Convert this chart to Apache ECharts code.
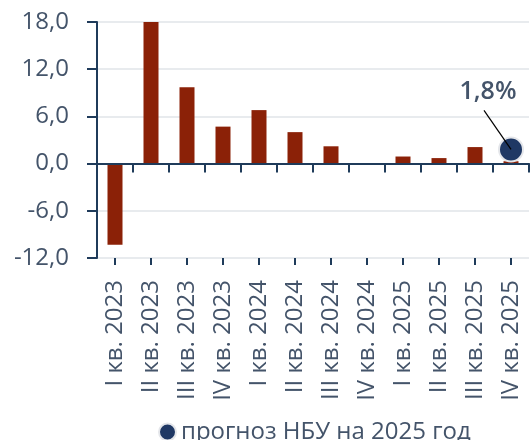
<!DOCTYPE html>
<html>
<head>
<meta charset="utf-8">
<script src="https://cdn.jsdelivr.net/npm/echarts@6/dist/echarts.min.js"></script>
<style>
  html, body { margin: 0; padding: 0; background: #fff; }
  #chart { width: 530px; height: 440px; }
</style>
</head>
<body>
<div id="chart"></div>
<script>
// категорії (квартали)
const quarters = ['I кв. 2023', 'II кв. 2023', 'III кв. 2023', 'IV кв. 2023',
  'I кв. 2024', 'II кв. 2024', 'III кв. 2024', 'IV кв. 2024',
  'I кв. 2025', 'II кв. 2025', 'III кв. 2025', 'IV кв. 2025']
// фактичні значення, %
const actual = [-10.3, 18.0, 9.7, 4.7, 6.8, 4.0, 2.2, 0, 0.9, 0.7, 2.1, 0.3]
// прогноз НБУ на 2025 рік
const forecast = [null, null, null, null, null, null, null, null, null, null, null, 1.8]
const forecastName = 'прогноз НБУ на 2025 год'

const textColor = '#44546a'
const axisColor = '#1f3b5a'
const font = '"Open Sans", sans-serif'

const fmt = v => v.toFixed(1).replace('.', ',')

const chart = echarts.init(document.getElementById('chart'))

// точка прогнозу для підпису
const forecastPoints = forecast.map((v, i) => [i, v]).filter(d => d[1] != null)

const option = {
  animation: false,
  textStyle: { fontFamily: font },
  grid: { left: 97, right: 1, top: 22, bottom: 182 },
  legend: {
    data: [forecastName],
    left: 153,
    top: 415,
    icon: 'circle',
    itemWidth: 17,
    itemHeight: 17,
    itemGap: 6,
    textStyle: { fontSize: 24, color: textColor, fontFamily: font }
  },
  xAxis: [
    {
      type: 'category',
      data: quarters,
      position: 'bottom',
      axisLine: { show: false, onZero: false },
      axisTick: { show: false },
      axisLabel: {
        interval: 0,
        rotate: 90,
        margin: 22,
        fontSize: 24,
        color: textColor,
        fontFamily: font
      }
    },
    {
      type: 'category',
      data: quarters,
      position: 'bottom',
      z: 3,
      axisLine: { show: true, onZero: true, lineStyle: { color: axisColor, width: 2 } },
      axisTick: { show: true, interval: 0, alignWithLabel: false, length: 9, lineStyle: { color: axisColor, width: 2 } },
      axisLabel: { show: false, interval: 0 }
    },
    {
      type: 'category',
      data: quarters,
      position: 'bottom',
      z: 3,
      axisLine: { show: false, onZero: true },
      axisTick: { show: true, interval: 0, alignWithLabel: true, length: 7, lineStyle: { color: axisColor, width: 2 } },
      axisLabel: { show: false, interval: 0 }
    }
  ],
  yAxis: {
    type: 'value',
    min: -12,
    max: 18,
    interval: 6,
    axisLine: { show: true, lineStyle: { color: axisColor, width: 2 } },
    axisTick: { show: true, length: 10, lineStyle: { color: axisColor, width: 2 } },
    splitLine: { lineStyle: { color: '#e1e4e9', width: 1.5 } },
    axisLabel: {
      margin: 28,
      fontSize: 24,
      color: textColor,
      fontFamily: font,
      formatter: fmt
    }
  },
  series: [
    {
      name: 'факт',
      type: 'bar',
      xAxisIndex: 0,
      data: actual,
      barWidth: 15,
      itemStyle: { color: '#8b2107' }
    },
    {
      name: forecastName,
      type: 'scatter',
      xAxisIndex: 0,
      data: forecast,
      symbolSize: 24,
      itemStyle: { color: '#1f3864', opacity: 1, borderColor: '#e4e6ea', borderWidth: 2 },
      z: 5
    },
    {
      // підпис прогнозу з виносною лінією до центру точки
      name: 'підпис',
      type: 'custom',
      xAxisIndex: 0,
      data: forecastPoints,
      encode: { x: 0, y: 1 },
      z: 6,
      renderItem: (params, api) => {
        const p = api.coord([api.value(0), api.value(1)])
        return {
          type: 'group',
          children: [
            {
              type: 'line',
              shape: { x1: p[0] - 27, y1: p[1] - 39, x2: p[0], y2: p[1] },
              style: { stroke: '#000', lineWidth: 1.2 }
            },
            {
              type: 'text',
              style: {
                text: fmt(api.value(1)) + '%',
                x: p[0] - 23,
                y: p[1] - 58,
                align: 'center',
                verticalAlign: 'middle',
                fontSize: 25,
                fontWeight: 600,
                fontFamily: font,
                fill: textColor
              }
            }
          ]
        }
      }
    }
  ]
}

chart.setOption(option)
</script>
</body>
</html>
